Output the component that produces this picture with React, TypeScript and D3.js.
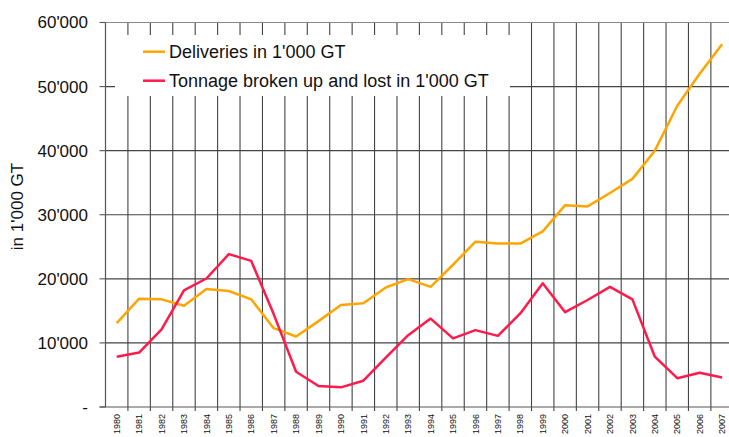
import React from "react";
import * as d3 from "d3";

const years = [
  "1980","1981","1982","1983","1984","1985","1986","1987","1988","1989",
  "1990","1991","1992","1993","1994","1995","1996","1997","1998","1999",
  "2000","2001","2002","2003","2004","2005","2006","2007",
];

const deliveries = [
  13100, 16900, 16800, 15800, 18400, 18100, 16800, 12300, 11000, 13400,
  15900, 16200, 18650, 19950, 18750, 22200, 25800, 25500, 25500, 27400,
  31500, 31300, 33400, 35600, 40000, 47000, 52000, 56600,
];

const brokenUp = [
  7850, 8500, 12100, 18200, 20050, 23850, 22800, 14500, 5500, 3270,
  3070, 4100, 7700, 11200, 13800, 10700, 12000, 11100, 14600, 19300,
  14800, 16700, 18750, 16800, 7850, 4500, 5350, 4600,
];

const yTicks = [0, 10000, 20000, 30000, 40000, 50000, 60000];

const seriesNames = ["Deliveries in 1'000 GT", "Tonnage broken up and lost in 1'000 GT"];
const seriesColors = ["#FFA500", "#FF1A4B"];

const W = 729;
const H = 437;
const FONT = "'Liberation Sans', Arial, sans-serif";

export default function App() {
  const x = d3.scaleBand<string>().domain(years).range([105.5, 733.3]).padding(0);
  const y = d3.scaleLinear().domain([0, 60000]).range([407, 22.5]);
  const bw = x.bandwidth();
  const cx = (yr: string) => (x(yr) as number) + bw / 2;

  const line = d3
    .line<number>()
    .x((_, i) => cx(years[i]))
    .y((v) => y(v));

  const boundaries = years.map((yr) => x(yr) as number).concat([x.range()[1]]);
  const fmt = (v: number) => (v === 0 ? "-" : d3.format(",")(v).replace(/,/g, "'"));

  const left = x.range()[0];
  const right = x.range()[1];

  return (
    <svg
      width={W}
      height={H}
      style={{ position: "absolute", left: 0, top: 0, background: "#fff" }}
      fontFamily={FONT}
    >
      <rect x={0} y={0} width={W} height={H} fill="#fff" />
      {/* vertical gridlines */}
      {boundaries.slice(1).map((bx, i) => (
        <line key={"v" + i} x1={bx} x2={bx} y1={y(60000)} y2={y(0) + 4} stroke="#444" strokeWidth={1.1} />
      ))}
      {/* horizontal gridlines */}
      {yTicks.slice(1, -1).map((t) => (
        <line key={"h" + t} x1={left} x2={right} y1={y(t)} y2={y(t)} stroke="#444" strokeWidth={1.1} />
      ))}
      {/* top border */}
      <line x1={left} x2={right} y1={y(60000)} y2={y(60000)} stroke="#888" strokeWidth={1.2} />
      {/* legend box */}
      <rect x={115} y={35} width={395} height={61} fill="#fff" />
      {/* y axis */}
      <line x1={left} x2={left} y1={y(60000)} y2={y(0)} stroke="#555" strokeWidth={1.2} />
      {yTicks.map((t) => (
        <g key={"yt" + t}>
          <line x1={left - 6} x2={left} y1={y(t)} y2={y(t)} stroke="#555" strokeWidth={1.1} />
          <text x={88} y={y(t)} dy="0.35em" textAnchor="end" fontSize={17} fill="#111">
            {fmt(t)}
          </text>
        </g>
      ))}
      {/* x axis */}
      <line x1={left - 6} x2={right} y1={y(0)} y2={y(0)} stroke="#555" strokeWidth={1.2} />
      {years.map((yr) => (
        <text
          key={"xl" + yr}
          transform={`translate(${cx(yr)},414) rotate(-90)`}
          dy="0.35em"
          textAnchor="end"
          fontSize={9}
          fill="#111"
        >
          {yr}
        </text>
      ))}
      {/* y title */}
      <text
        transform={`translate(17.5,206.5) rotate(-90)`}
        dy="0.35em"
        textAnchor="middle"
        fontSize={17}
        fill="#111"
      >
        in 1'000 GT
      </text>
      {/* series */}
      <path d={line(deliveries) || ""} fill="none" stroke={seriesColors[0]} strokeWidth={2.5} strokeLinejoin="round" />
      <path d={line(brokenUp) || ""} fill="none" stroke={seriesColors[1]} strokeWidth={2.5} strokeLinejoin="round" />
      {/* legend */}
      {seriesNames.map((name, i) => (
        <g key={"lg" + i}>
          <line x1={143} x2={165} y1={51.7 + i * 29} y2={51.7 + i * 29} stroke={seriesColors[i]} strokeWidth={2.5} />
          <text x={169} y={51.7 + i * 29} dy="0.35em" fontSize={18} fill="#111">
            {name}
          </text>
        </g>
      ))}
    </svg>
  );
}
